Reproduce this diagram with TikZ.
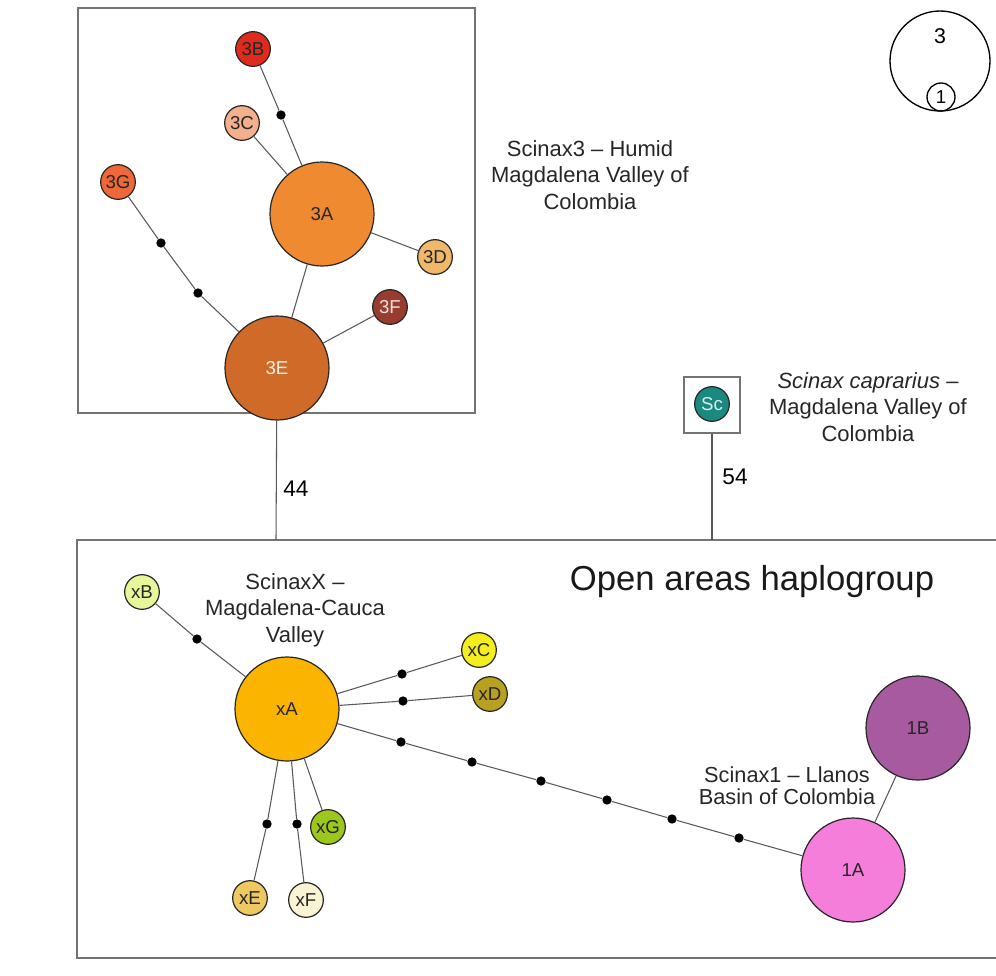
\documentclass[tikz,border=0pt]{standalone}
\usepackage{fontspec}
\setmainfont{Liberation Sans}
\usepackage{tikz}
\usetikzlibrary{positioning}
\definecolor{c3A}{HTML}{F08A30}
\definecolor{c3B}{HTML}{DE2B1E}
\definecolor{c3C}{HTML}{F4B08C}
\definecolor{c3D}{HTML}{F0B868}
\definecolor{c3E}{HTML}{D06A28}
\definecolor{c3F}{HTML}{983C30}
\definecolor{c3G}{HTML}{EE683A}
\definecolor{cSc}{HTML}{1A8A80}
\definecolor{cxA}{HTML}{FBB400}
\definecolor{cxB}{HTML}{E8F69A}
\definecolor{cxC}{HTML}{F4EE1E}
\definecolor{cxD}{HTML}{B8A020}
\definecolor{cxE}{HTML}{EEC860}
\definecolor{cxF}{HTML}{FAF3D4}
\definecolor{cxG}{HTML}{9CC81E}
\definecolor{c1A}{HTML}{F47EDA}
\definecolor{c1B}{HTML}{A85AA0}
\tikzstyle{hap} = [circle, draw=black!85, line width=0.9pt, inner sep=0pt, text=black!85, font=\fontsize{14}{14}\selectfont]
\tikzstyle{bighap} = [hap, minimum size=78pt]
\tikzstyle{smallhap} = [hap, minimum size=26pt]
\tikzstyle{mut} = [circle, fill=black, inner sep=0pt, minimum size=7pt]
\tikzstyle{link} = [draw=black!65, line width=0.8pt]
\tikzstyle{frame} = [draw=black!55, line width=0.8pt]
\tikzstyle{region} = [align=center, text=black!85, font=\fontsize{16.5}{20}\selectfont]

\begin{document}
\begin{tikzpicture}[x=0.75pt, y=-0.75pt]
		\useasboundingbox (0,0) rectangle (996,975);
		% frames
		\draw[frame] (78,8) rectangle (475,413);
		\draw[frame] (77,540) rectangle (1010,958);
		\node (scbox) [frame, rectangle, minimum size=42pt] at (712,405) {};
		\coordinate (humidjoin) at (276,540);
		\coordinate (scjoin) at (712,540);
		
		% Scinax3 network
		\node (h3A) [bighap, fill=c3A] at (322,214) {3A};
		\node (h3E) [bighap, fill=c3E, text=white!90!c3E] at (277,368) {3E};
		\node (h3B) [smallhap, fill=c3B] at (253,49) {3B};
		\node (h3C) [smallhap, fill=c3C] at (242,123) {3C};
		\node (h3D) [smallhap, fill=c3D] at (435,257) {3D};
		\node (h3F) [smallhap, fill=c3F, text=white!85!c3F] at (390,307) {3F};
		\node (h3G) [smallhap, fill=c3G] at (118,182) {3G};
		\node (m1) [mut] at (281,115) {};
		\node (m2) [mut] at (161,243) {};
		\node (m3) [mut] at (198,293) {};
		
		% Scinax caprarius
		\node (hSc) [smallhap, fill=cSc, text=white!85!cSc] at (712,404) {Sc};
		
		% ScinaxX network
		\node (hxA) [bighap, fill=cxA] at (287,709) {xA};
		\node (hxB) [smallhap, fill=cxB] at (142,592) {xB};
		\node (hxC) [smallhap, fill=cxC] at (479,650) {xC};
		\node (hxD) [smallhap, fill=cxD] at (490,694) {xD};
		\node (hxE) [smallhap, fill=cxE] at (250,898) {xE};
		\node (hxF) [smallhap, fill=cxF] at (306,900) {xF};
		\node (hxG) [smallhap, fill=cxG] at (328,827) {xG};
		\node (m4) [mut] at (197,639) {};
		\node (m5) [mut] at (402,674) {};
		\node (m6) [mut] at (403,701) {};
		\node (m13) [mut] at (267,824) {};
		\node (m14) [mut] at (297,824) {};
		
		% Scinax1 network
		\node (h1A) [bighap, fill=c1A] at (853,870) {1A};
		\node (h1B) [bighap, fill=c1B] at (918,728) {1B};
		\node (m7) [mut] at (401,742) {};
		\node (m8) [mut] at (472,762) {};
		\node (m9) [mut] at (541,781) {};
		\node (m10) [mut] at (607,800) {};
		\node (m11) [mut] at (672,819) {};
		\node (m12) [mut] at (739,838) {};
		
		% legend
		\node (leg3) [circle, draw=black, line width=1pt, minimum size=75pt, inner sep=0pt] at (940,61) {};
		\node (leg1) [circle, draw=black, line width=1pt, minimum size=21pt, inner sep=0pt, font=\fontsize{14}{14}\selectfont] at (941,97) {1};
		\node (leg3txt) [font=\fontsize{16}{16}\selectfont] at (940,36) {3};
		
		% labels
		\node (lab3) [region] at (590,175) {Scinax3 -- Humid\\Magdalena Valley of\\Colombia};
		\node (labSc) [region] at (868,407) {\textit{Scinax caprarius} --\\Magdalena Valley of\\Colombia};
		\node (labX) [region] at (295,610) {ScinaxX --\\Magdalena-Cauca\\Valley};
		\node (lab1) [align=center, text=black!85, font=\fontsize{16.3}{16.5}\selectfont] at (787,786) {Scinax1 -- Llanos\\Basin of Colombia};
		\node (labopen) [text=black!90, font=\fontsize{26}{26}\selectfont] at (752,582) {Open areas haplogroup};
		\node (n44) [font=\fontsize{17}{17}\selectfont] at (296,489) {44};
		\node (n54) [font=\fontsize{17}{17}\selectfont] at (735,477) {54};
		
		% links
		\draw[link] (h3E) -- (humidjoin);
		\draw[link] (scbox) -- (scjoin);
		\draw[link] (h3B) -- (m1) -- (h3A);
		\draw[link] (h3C) -- (h3A);
		\draw[link] (h3A) -- (h3D);
		\draw[link] (h3A) -- (h3E);
		\draw[link] (h3E) -- (h3F);
		\draw[link] (h3G) -- (m2) -- (m3) -- (h3E);
		\draw[link] (hxB) -- (m4) -- (hxA);
		\draw[link] (hxA) -- (m5) -- (hxC);
		\draw[link] (hxA) -- (m6) -- (hxD);
		\draw[link] (hxA) -- (m13) -- (hxE);
		\draw[link] (hxA) -- (m14) -- (hxF);
		\draw[link] (hxA) -- (hxG);
		\draw[link] (hxA) -- (m7) -- (m8) -- (m9) -- (m10) -- (m11) -- (m12) -- (h1A);
		\draw[link] (h1A) -- (h1B);
	\end{tikzpicture}
\end{document}
